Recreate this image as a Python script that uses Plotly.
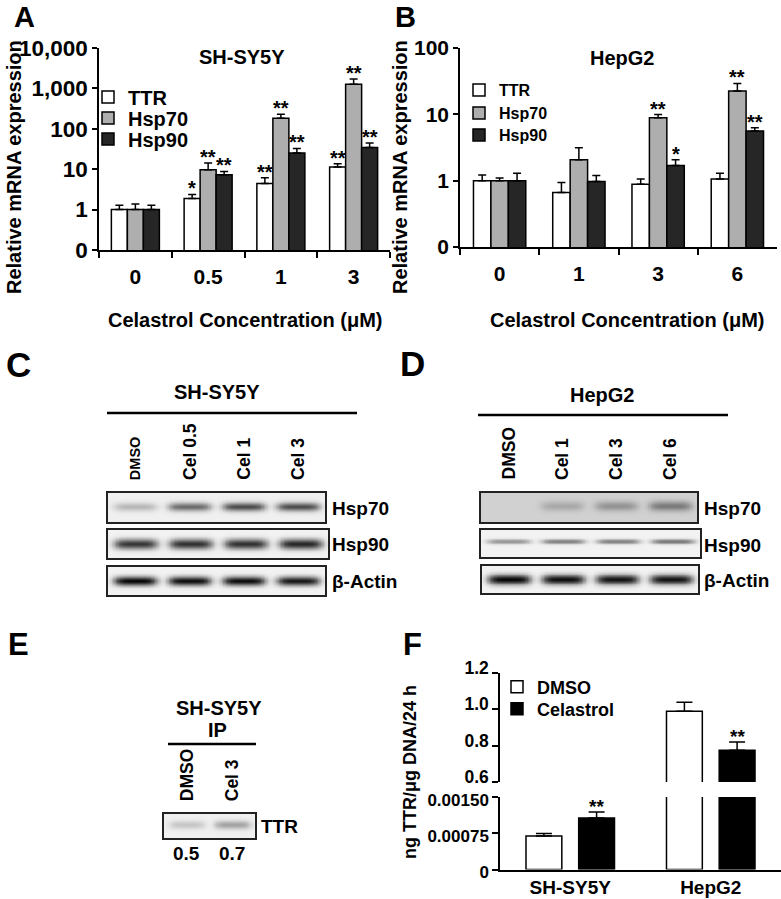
import numpy as np
import plotly.graph_objects as go

W, H = 781, 899
def fx(px): return px / W
def fy(py): return 1 - py / H

FONT = "Liberation Sans, Arial, sans-serif"

# ---------------- Panel A data (SH-SY5Y qPCR) ----------------
conc_A = ["0", "0.5", "1", "3"]
ttr_A = [1.0, 1.87, 4.4, 11.3]
ttr_A_err = [0.28, 0.5, 1.7, 2.4]
hsp70_A = [1.0, 9.7, 182, 1260]
hsp70_A_err = [0.38, 4.5, 48, 450]
hsp90_A = [1.0, 7.3, 25, 34.6]
hsp90_A_err = [0.28, 1.5, 7.6, 9.7]
stars_A = {"TTR": ["", "*", "**", "**"],
           "Hsp70": ["", "**", "**", "**"],
           "Hsp90": ["", "**", "**", "**"]}
A_tickvals = [0.1, 1, 10, 100, 1000, 10000]
A_ticktext = ["0", "1", "10", "100", "1,000", "10,000"]

# ---------------- Panel B data (HepG2 qPCR) ----------------
conc_B = ["0", "1", "3", "6"]
ttr_B = [1.0, 0.665, 0.88, 1.06]
ttr_B_err = [0.22, 0.275, 0.18, 0.23]
hsp70_B = [1.0, 2.06, 8.9, 22.5]
hsp70_B_err = [0.1, 1.07, 1.0, 6.7]
hsp90_B = [1.0, 0.97, 1.69, 5.6]
hsp90_B_err = [0.29, 0.23, 0.37, 0.7]
stars_B = {"TTR": ["", "", "", ""],
           "Hsp70": ["", "", "**", "**"],
           "Hsp90": ["", "", "*", "**"]}
B_tickvals = [0.1, 1, 10, 100]
B_ticktext = ["0", "1", "10", "100"]

# ---------------- Panel F data (secreted TTR) ----------------
cells_F = ["SH-SY5Y", "HepG2"]
dmso_F = [0.000694, 0.989]
dmso_F_err = [0.00005, 0.05]
cel_F = [0.001066, 0.775]
cel_F_err = [0.000124, 0.045]
stars_F_cel = ["**", "**"]
F_low_tickvals = [0, 0.00075, 0.0015]
F_low_ticktext = ["0", "0.00075", "0.00150"]
F_high_tickvals = [0.6, 0.8, 1.0, 1.2]
F_high_ticktext = ["0.6", "0.8", "1.0", "1.2"]

# ---------------- Western blot lane intensities ----------------
lanes_C = ["DMSO", "Cel 0.5", "Cel 1", "Cel 3"]
lanes_D = ["DMSO", "Cel 1", "Cel 3", "Cel 6"]
lanes_E = ["DMSO", "Cel 3"]
C_hsp70 = [0.22, 0.52, 0.64, 0.64]
C_hsp90 = [0.74, 0.76, 0.76, 0.8]
C_actin = [0.93, 0.9, 0.9, 0.86]
D_hsp70 = [0.0, 0.16, 0.24, 0.34]
D_hsp90 = [0.36, 0.44, 0.44, 0.48]
D_actin = [0.93, 0.9, 0.88, 0.88]
E_ttr = [0.16, 0.3]
E_values = ["0.5", "0.7"]

COL = {"TTR": "white", "Hsp70": "#aeaeae", "Hsp90": "#262626"}

fig = go.Figure()

def add_group(xa, ya, cats, series, legs):
    for (name, vals, errs), leg in zip(series, legs):
        fig.add_trace(go.Bar(
            x=cats, y=vals, name=name, xaxis=xa, yaxis=ya, legend=leg, showlegend=True,
            marker=dict(color=COL[name], line=dict(color="black", width=1.5)),
            error_y=dict(type="data", array=errs, arrayminus=[0] * len(errs),
                         symmetric=False, color="black", thickness=1.5, width=4),
            hoverinfo="skip"))

series_A = [("TTR", ttr_A, ttr_A_err), ("Hsp70", hsp70_A, hsp70_A_err), ("Hsp90", hsp90_A, hsp90_A_err)]
series_B = [("TTR", ttr_B, ttr_B_err), ("Hsp70", hsp70_B, hsp70_B_err), ("Hsp90", hsp90_B, hsp90_B_err)]
add_group("x", "y", conc_A, series_A, ["legend", "legend4", "legend5"])
add_group("x2", "y2", conc_B, series_B, ["legend2", "legend6", "legend7"])

annotations = []
BG = 0.34
slot = (1 - BG) / 3
def star_annots(xref, yref, cats, series, stars):
    for j, (name, vals, errs) in enumerate(series):
        for i in range(len(cats)):
            s = stars[name][i]
            if not s:
                continue
            annotations.append(dict(
                x=i + (j - 1) * slot, y=np.log10(vals[i] + errs[i]), xref=xref, yref=yref,
                text=s, showarrow=False, yanchor="bottom", yshift=-7,
                font=dict(size=20, family=FONT, weight="bold", color="black")))

star_annots("x", "y", conc_A, series_A, stars_A)
star_annots("x2", "y2", conc_B, series_B, stars_B)

# Panel F: broken axis -> same traces on lower (y3) and upper (y4) axes
F_width = 0.255
for ya, show in (("y3", True), ("y4", False)):
    fig.add_trace(go.Bar(x=cells_F, y=dmso_F, name="DMSO", xaxis="x3", yaxis=ya,
                         legend="legend3", showlegend=show, width=F_width, offset=-0.315,
                         marker=dict(color="white", line=dict(color="black", width=1.5)),
                         error_y=dict(type="data", array=dmso_F_err, arrayminus=[0, 0],
                                      symmetric=False, color="black", thickness=1.5, width=8),
                         hoverinfo="skip"))
    fig.add_trace(go.Bar(x=cells_F, y=cel_F, name="Celastrol", xaxis="x3", yaxis=ya,
                         legend="legend8", showlegend=show, width=F_width, offset=0.06,
                         marker=dict(color="black", line=dict(color="black", width=1.5)),
                         error_y=dict(type="data", array=cel_F_err, arrayminus=[0, 0],
                                      symmetric=False, color="black", thickness=1.5, width=8),
                         hoverinfo="skip"))
annotations.append(dict(x=0.06 + F_width / 2, y=cel_F[0] + cel_F_err[0], xref="x3", yref="y3",
                        text=stars_F_cel[0], showarrow=False, yanchor="bottom", yshift=-7,
                        font=dict(size=19, family=FONT, weight="bold")))
annotations.append(dict(x=1 + 0.06 + F_width / 2, y=cel_F[1] + cel_F_err[1], xref="x3", yref="y4",
                        text=stars_F_cel[1], showarrow=False, yanchor="bottom", yshift=-7,
                        font=dict(size=19, family=FONT, weight="bold")))

# ---------------- Blots as heatmaps ----------------
blots = [
    # axis idx, intensities, xdom px, ydom px(top,bottom), bg, band half-height, band centre
    (5, C_hsp70, (108, 325), (493, 522), 0.06, 0.30, 0.05),
    (6, C_hsp90, (108, 328), (530, 558), 0.05, 0.36, 0.0),
    (7, C_actin, (108, 325), (567, 595), 0.05, 0.32, 0.0),
    (8, D_hsp70, (481, 697), (493, 522), 0.18, 0.35, 0.1),
    (9, D_hsp90, (481, 700), (530, 557), 0.05, 0.18, 0.15),
    (10, D_actin, (482, 698), (566, 593), 0.05, 0.36, 0.0),
    (11, E_ttr, (164, 255), (814, 838), 0.06, 0.35, 0.1),
]
layout_axes = {}
for idx, inten, (x0, x1), (yt, yb), bg, hh, yc in blots:
    n = len(inten)
    xs = np.linspace(0.5, n + 0.5, 40 * n + 1)
    ys = np.linspace(-1, 1, 61)
    z = np.full((len(ys), len(xs)), bg)
    for i, I in enumerate(inten):
        prof_x = np.exp(-np.abs((xs - (i + 1)) / 0.40) ** 5)
        prof_y = np.exp(-((ys - yc) / hh) ** 2)
        z += I * np.outer(prof_y, prof_x)
    z = np.clip(z, 0, 1)
    fig.add_trace(go.Heatmap(x=xs, y=ys, z=z, xaxis=f"x{idx}", yaxis=f"y{idx}",
                             colorscale=[[0, "white"], [1, "black"]], zmin=0, zmax=1,
                             showscale=False, showlegend=False, hoverinfo="skip", zsmooth="best"))
    layout_axes[f"xaxis{idx}"] = dict(domain=[fx(x0), fx(x1)], anchor=f"y{idx}",
                                      range=[0.5, n + 0.5], showline=True, mirror=True,
                                      linecolor="#222", linewidth=1.5, showticklabels=False,
                                      ticks="", showgrid=False, zeroline=False)
    layout_axes[f"yaxis{idx}"] = dict(domain=[fy(yb), fy(yt)], anchor=f"x{idx}",
                                      range=[-1, 1], showline=True, mirror=True,
                                      linecolor="#222", linewidth=1.5, showticklabels=False,
                                      ticks="", showgrid=False, zeroline=False)

def txt(x, y, s, size, xanchor="center", yanchor="middle", angle=0, xref="paper", yref="paper"):
    annotations.append(dict(x=x, y=y, xref=xref, yref=yref, text=s, showarrow=False,
                            xanchor=xanchor, yanchor=yanchor, textangle=angle,
                            font=dict(size=size, family=FONT, weight="bold", color="black")))

# panel letters
for L, px, py, sz in [("A", 24, 17, 29), ("B", 405, 17, 29), ("C", 18, 364, 35),
                      ("D", 412, 363, 35), ("E", 18, 644, 31), ("F", 412, 644, 31)]:
    txt(fx(px), fy(py), L, sz)

# titles & axis titles
txt(fx(242), fy(57), "SH-SY5Y", 20)
txt(fx(622), fy(58), "HepG2", 20)
txt(fx(14), fy(167), "Relative mRNA expression", 20, angle=-90)
txt(fx(400), fy(167), "Relative mRNA expression", 20, angle=-90)
txt(fx(245), fy(320), "Celastrol Concentration (μM)", 20)
txt(fx(627), fy(320), "Celastrol Concentration (μM)", 20)
txt(fx(410), fy(772), "ng TTR/μg DNA/24 h", 18, angle=-90)

# blot headers
txt(fx(217), fy(392), "SH-SY5Y", 20)
txt(fx(602), fy(395), "HepG2", 20)
txt(fx(219), fy(708), "SH-SY5Y", 20)
txt(fx(217), fy(730), "IP", 20)

# lane labels
for i, lab in enumerate(lanes_C):
    txt(i + 1, fy(482), lab, 14.5 if lab == "DMSO" else 17.5, yanchor="bottom", angle=-90, xref="x5")
for i, lab in enumerate(lanes_D):
    txt(i + 1, fy(482), lab, 17.5, yanchor="bottom", angle=-90, xref="x8")
for i, lab in enumerate(lanes_E):
    txt(i + 1, fy(803), lab, 17.5, yanchor="bottom", angle=-90, xref="x11")
for i, lab in enumerate(E_values):
    txt(i + 1, fy(853), lab, 19, xref="x11")

# protein labels
for lab, py in [("Hsp70", 508), ("Hsp90", 544), ("β-Actin", 581)]:
    txt(fx(330), fy(py), lab, 19, xanchor="left")
for lab, py in [("Hsp70", 508), ("Hsp90", 545), ("β-Actin", 580)]:
    txt(fx(702), fy(py), lab, 19, xanchor="left")
txt(fx(259), fy(826), "TTR", 19, xanchor="left")

shapes = [
    dict(type="line", xref="paper", yref="paper", x0=fx(107), x1=fx(357), y0=fy(413), y1=fy(413),
         line=dict(color="black", width=2.5)),
    dict(type="line", xref="paper", yref="paper", x0=fx(478), x1=fx(728), y0=fy(415), y1=fy(415),
         line=dict(color="black", width=2.5)),
    dict(type="line", xref="paper", yref="paper", x0=fx(168), x1=fx(256), y0=fy(744), y1=fy(744),
         line=dict(color="black", width=2.5)),
]

tick_font = lambda s: dict(size=s, family=FONT, weight="bold", color="black")
base_ax = dict(showline=True, linecolor="black", linewidth=1.5, showgrid=False, zeroline=False,
               ticks="outside", tickcolor="black", tickwidth=1.5, automargin=False)

def leg(px, py, size):
    return dict(x=fx(px), y=fy(py), xanchor="left", yanchor="middle", bgcolor="rgba(0,0,0,0)",
                font=dict(size=size, family=FONT, weight="bold", color="black"), itemwidth=30,
                visible=True)

fig.update_layout(
    width=W, height=H, margin=dict(l=0, r=0, t=0, b=0, pad=0, autoexpand=False),
    autosize=False, showlegend=True,
    paper_bgcolor="white", plot_bgcolor="rgba(0,0,0,0)",
    barmode="group", bargap=BG, bargroupgap=0,
    font=dict(family=FONT, weight="bold", color="black"),
    xaxis=dict(base_ax, domain=[fx(99), fx(390)], anchor="y", type="category",
               tickson="boundaries", ticklen=6, tickfont=tick_font(21), ticklabelstandoff=7),
    yaxis=dict(base_ax, domain=[fy(250), fy(48)], anchor="x", type="log", range=[-1, 4],
               tickvals=A_tickvals, ticktext=A_ticktext, ticklen=5, tickfont=tick_font(22.5)),
    xaxis2=dict(base_ax, domain=[fx(460), fx(777)], anchor="y2", type="category",
                tickson="boundaries", ticklen=6, tickfont=tick_font(21), ticklabelstandoff=7),
    yaxis2=dict(base_ax, domain=[fy(247), fy(48)], anchor="x2", type="log", range=[-1, 2],
                tickvals=B_tickvals, ticktext=B_ticktext, ticklen=5, tickfont=tick_font(21)),
    xaxis3=dict(base_ax, domain=[fx(500), fx(781)], anchor="y3", type="category",
                range=[-0.5, 1.5], ticks="", tickfont=tick_font(19)),
    yaxis3=dict(base_ax, domain=[fy(869.5), fy(797)], anchor="x3", range=[0, 0.0015],
                tickvals=F_low_tickvals, ticktext=F_low_ticktext, ticklen=6,
                tickfont=tick_font(17), ticklabelshift=3),
    yaxis4=dict(base_ax, domain=[fy(782), fy(673)], anchor="x3", range=[0.6, 1.2],
                tickvals=F_high_tickvals, ticktext=F_high_ticktext, ticklen=6,
                tickfont=tick_font(17.5), ticklabelshift=-5),
    legend=leg(88, 97, 20), legend4=leg(88, 118, 20), legend5=leg(88, 139, 20),
    legend2=leg(459, 90, 16), legend6=leg(459, 113, 16), legend7=leg(459, 135, 16),
    legend3=leg(497, 687, 18), legend8=leg(497, 709, 18),
    annotations=annotations, shapes=shapes,
    **layout_axes,
)

fig.write_html("out.html", config={"displayModeBar": False},
               post_script="document.body.style.margin='0';document.body.style.padding='0';")
